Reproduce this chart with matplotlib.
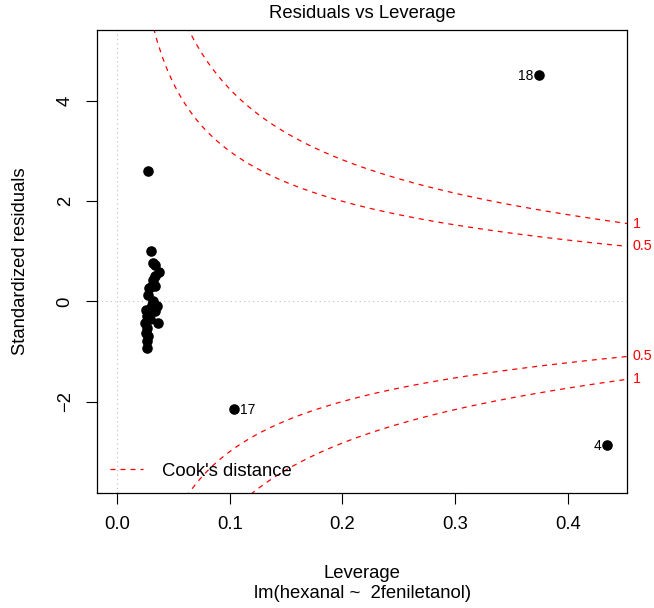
import numpy as np
import matplotlib
matplotlib.use('Agg')
import matplotlib.pyplot as plt

plt.rcParams['font.family'] = ['Liberation Sans', 'DejaVu Sans']

# leverage (hat values) and standardized residuals
leverage = [0.0278, 0.0301, 0.0319, 0.0340, 0.0369, 0.0340, 0.0324, 0.0310,
            0.0289, 0.0340, 0.0280, 0.0324, 0.0310, 0.0355, 0.0260, 0.0295,
            0.0340, 0.0266, 0.0295, 0.0360, 0.0250, 0.0270, 0.0260, 0.0275,
            0.0266, 0.0270, 0.1040, 0.3744, 0.4350]
std_resid = [2.60, 1.00, 0.77, 0.73, 0.58, 0.50, 0.43, 0.30,
             0.27, 0.30, 0.13, 0.00, -0.07, -0.10, -0.17, -0.20,
             -0.20, -0.30, -0.36, -0.44, -0.43, -0.53, -0.63, -0.70,
             -0.80, -0.93, -2.14, 4.52, -2.86]
point_ids = [''] * 26 + ['17', '18', '4']
id_side = [''] * 26 + ['right', 'left', 'left']

cook_levels = [0.5, 1]
n_coef = 2

x_ticks = [0.0, 0.1, 0.2, 0.3, 0.4]
y_ticks = [-2, 0, 2, 4]

title = 'Residuals vs Leverage'
x_label = 'Leverage'
sub_caption = 'lm(hexanal ~  2feniletanol)'
y_label = 'Standardized residuals'

W, H = 654, 608
fig = plt.figure(figsize=(W / 100, H / 100), dpi=100)
ax = fig.add_axes([97.3 / W, 1 - 492.7 / H, 530 / W, 462.7 / H])
ax.set_xlim(-0.0174, 0.4527)
ax.set_ylim(-3.82, 5.42)

# reference lines at 0
ax.axhline(0, color='#BEBEBE', ls=(0, (1, 3)), lw=0.8, zorder=1)
ax.axvline(0, color='#BEBEBE', ls=(0, (1, 3)), lw=0.8, zorder=1)

# Cook's distance contours, as in plot.lm
xmax = ax.get_xlim()[1]
hh = np.linspace(min(min(leverage), max(leverage) / 100, xmax / 4), xmax, 101)
for i, lev in enumerate(cook_levels):
    cl = np.sqrt(lev * n_coef * (1 - hh) / hh)
    lbl = "Cook's distance" if i == 0 else None
    ax.plot(hh, cl, color='red', ls=(0, (4, 4)), lw=0.9, label=lbl, zorder=2)
    ax.plot(hh, -cl, color='red', ls=(0, (4, 4)), lw=0.9, zorder=2)
    aty = np.sqrt(lev * n_coef * (1 - xmax) / xmax)
    for yy in (aty, -aty):
        ax.annotate(str(lev), xy=(1, yy), xycoords=('axes fraction', 'data'),
                    xytext=(4, 0), textcoords='offset points', ha='left',
                    va='center', color='red', fontsize=10.3, annotation_clip=False)

ax.scatter(leverage, std_resid, s=58, color='black', zorder=3, linewidths=0)

for x, y, t, side in zip(leverage, std_resid, point_ids, id_side):
    if t == '':
        continue
    dx = 4 if side == 'right' else -4
    ax.annotate(t, xy=(x, y), xytext=(dx, -1), textcoords='offset points',
                ha='left' if side == 'right' else 'right', va='center',
                fontsize=10)

ax.set_xticks(x_ticks)
ax.set_xticklabels(['%.1f' % v for v in x_ticks])
ax.set_yticks(y_ticks)
ax.set_yticklabels([str(v).replace('-', '\u2212') for v in y_ticks])
ax.tick_params(length=8, width=0.8, labelsize=13.3, color='black')
ax.tick_params(axis='x', pad=8.5)
ax.tick_params(axis='y', pad=9, labelrotation=90)
for lab in ax.get_yticklabels():
    lab.set_va('center')
for s in ax.spines.values():
    s.set_linewidth(0.9)

ax.legend(loc='lower left', frameon=False, fontsize=13.3, handlelength=1.8,
          handletextpad=1.0, borderpad=0, borderaxespad=0.7)

fig.text(362.3 / W, 1 - 14 / H, title, ha='center', va='center', fontsize=13.3)
fig.text(362.3 / W, 1 - 573 / H, x_label, ha='center', va='center', fontsize=13.3)
fig.text(362.3 / W, 1 - 594 / H, sub_caption, ha='center', va='center', fontsize=13.3)
fig.text(21 / W, 1 - 261 / H, y_label, ha='center', va='center', rotation=90,
         fontsize=13.3)

fig.savefig('out.png', dpi=100)
